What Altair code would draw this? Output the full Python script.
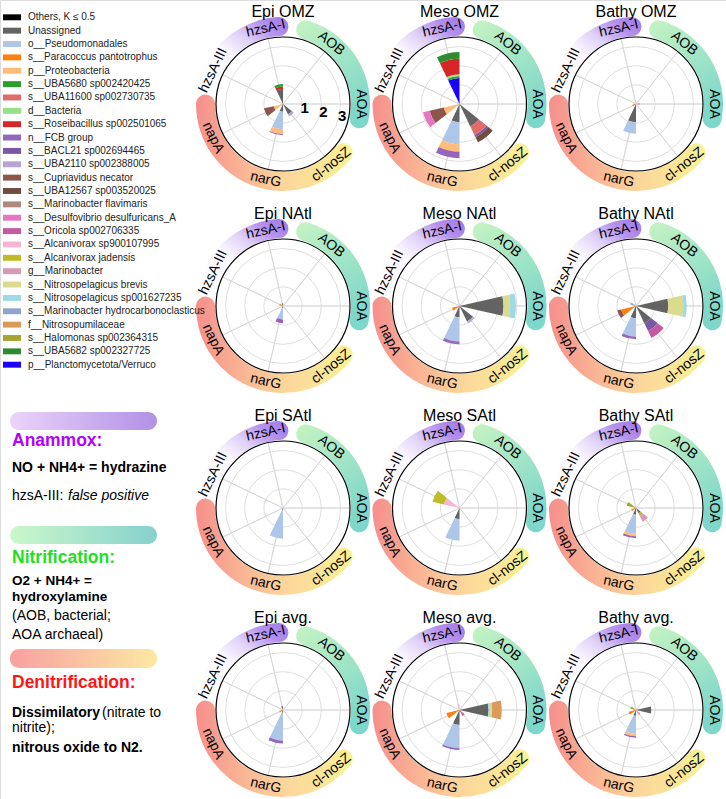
import math
import altair as alt
import pandas as pd

GENES = ["hzsA-I", "AOB", "AOA", "cl-nosZ", "narG", "napA", "hzsA-III"]

PANELS = ["Epi OMZ", "Meso OMZ", "Bathy OMZ",
          "Epi NAtl", "Meso NAtl", "Bathy NAtl",
          "Epi SAtl", "Meso SAtl", "Bathy SAtl",
          "Epi avg.", "Meso avg.", "Bathy avg."]

TAXA_KEYS = ["Others", "Unassigned", "Pseudomonadales", "Paracoccus", "Proteobacteria",
             "UBA5680", "UBA11600", "Bacteria", "Roseibacillus", "FCB", "BACL21", "UBA2110",
             "Cupriavidus", "UBA12567", "M_flavimaris", "Desulfovibrio", "Oricola",
             "Alcanivorax_sp", "A_jadensis", "Marinobacter", "N_brevis", "N_sp",
             "M_hydrocarbon", "Nitrosopumilaceae", "Halomonas", "UBA5682", "Planctomycetota"]

TAXA = ["Others, K ≤ 0.5", "Unassigned", "o__Pseudomonadales", "s__Paracoccus pantotrophus",
        "p__Proteobacteria", "s__UBA5680 sp002420425", "s__UBA11600 sp002730735", "d__Bacteria",
        "s__Roseibacillus sp002501065", "n__FCB group", "s__BACL21 sp002694465",
        "s__UBA2110 sp002388005", "s__Cupriavidus necator", "s__UBA12567 sp003520025",
        "s__Marinobacter flavimaris", "s__Desulfovibrio desulfuricans_A", "s__Oricola sp002706335",
        "s__Alcanivorax sp900107995", "s__Alcanivorax jadensis", "g__Marinobacter",
        "s__Nitrosopelagicus brevis", "s__Nitrosopelagicus sp001627235",
        "s__Marinobacter hydrocarbonoclasticus", "f__Nitrosopumilaceae",
        "s__Halomonas sp002364315", "s__UBA5682 sp002327725", "p__Planctomycetota/Verruco"]

COLORS = ["#000000", "#636363", "#aec7e8", "#ff7f0e", "#ffbb78", "#2ca02c", "#e06b6b", "#98df8a",
          "#d62728", "#9467bd", "#7b58a6", "#b9a5d2", "#8c564b", "#704b3f", "#ad8a80",
          "#e377c2", "#c45ba2", "#f7b6d2", "#bcbd22", "#d99ab5", "#dbdb8d", "#9edae5",
          "#8fa6cc", "#dc9a58", "#a5a632", "#2f8b2f", "#1c00ff"]

# (gene, taxon, value) stacked from the centre outwards
EPI_OMZ = [("hzsA-I", "Unassigned", 0.78), ("hzsA-I", "Roseibacillus", 0.14), ("hzsA-I", "UBA5680", 0.13),
           ("cl-nosZ", "Unassigned", 0.6), ("cl-nosZ", "UBA2110", 0.12),
           ("narG", "Unassigned", 0.4), ("narG", "Pseudomonadales", 0.92), ("narG", "Proteobacteria", 0.26),
           ("narG", "FCB", 0.05),
           ("napA", "Proteobacteria", 0.5), ("napA", "Cupriavidus", 0.52)]
MESO_OMZ = [("hzsA-I", "Planctomycetota", 1.36), ("hzsA-I", "UBA5680", 0.1), ("hzsA-I", "Bacteria", 0.1),
            ("hzsA-I", "Roseibacillus", 0.8), ("hzsA-I", "UBA5682", 0.35),
            ("cl-nosZ", "Unassigned", 1.3), ("cl-nosZ", "UBA11600", 0.5), ("cl-nosZ", "BACL21", 0.12),
            ("cl-nosZ", "UBA12567", 0.3),
            ("narG", "Unassigned", 0.95), ("narG", "Pseudomonadales", 1.15), ("narG", "Proteobacteria", 0.4),
            ("narG", "FCB", 0.33),
            ("napA", "Proteobacteria", 0.85), ("napA", "Cupriavidus", 0.75), ("napA", "Desulfovibrio", 0.35)]
BATHY_OMZ = [("AOA", "Desulfovibrio", 0.2),
             ("narG", "Unassigned", 0.95), ("narG", "Pseudomonadales", 0.6),
             ("napA", "Paracoccus", 0.2)]
EPI_NATL = [("narG", "Unassigned", 0.1), ("narG", "Pseudomonadales", 0.6), ("narG", "FCB", 0.2),
            ("hzsA-III", "Paracoccus", 0.2), ("hzsA-I", "Unassigned", 0.15)]
MESO_NATL = [("AOA", "Unassigned", 2.3), ("AOA", "N_brevis", 0.35), ("AOA", "N_sp", 0.3),
             ("cl-nosZ", "Unassigned", 0.9), ("cl-nosZ", "UBA2110", 0.1),
             ("narG", "Unassigned", 0.6), ("narG", "Pseudomonadales", 1.25), ("narG", "FCB", 0.15),
             ("napA", "Paracoccus", 0.4), ("hzsA-I", "Alcanivorax_sp", 0.15)]
BATHY_NATL = [("AOA", "Unassigned", 1.69), ("AOA", "N_brevis", 0.78), ("AOA", "N_sp", 0.18),
              ("cl-nosZ", "Unassigned", 1.0), ("cl-nosZ", "BACL21", 0.45), ("cl-nosZ", "Oricola", 0.4),
              ("narG", "Unassigned", 0.64), ("narG", "Pseudomonadales", 0.96), ("narG", "FCB", 0.14),
              ("napA", "Paracoccus", 0.8), ("napA", "Cupriavidus", 0.2),
              ("hzsA-III", "M_hydrocarbon", 0.3)]
EPI_SATL = [("narG", "Unassigned", 0.1), ("narG", "Pseudomonadales", 1.5)]
MESO_SATL = [("narG", "Unassigned", 0.58), ("narG", "Pseudomonadales", 1.13),
             ("hzsA-III", "Alcanivorax_sp", 0.84), ("hzsA-III", "A_jadensis", 0.6)]
BATHY_SATL = [("narG", "Unassigned", 0.35), ("narG", "Pseudomonadales", 1.0), ("narG", "Proteobacteria", 0.13),
              ("narG", "FCB", 0.1),
              ("cl-nosZ", "Unassigned", 0.3), ("cl-nosZ", "A_jadensis", 0.15), ("cl-nosZ", "Marinobacter", 0.35),
              ("hzsA-III", "Halomonas", 0.5), ("napA", "Paracoccus", 0.25)]
EPI_AVG = [("narG", "Unassigned", 0.15), ("narG", "Pseudomonadales", 1.45), ("narG", "FCB", 0.15),
           ("hzsA-I", "Unassigned", 0.2), ("napA", "Paracoccus", 0.2)]
MESO_AVG = [("AOA", "Unassigned", 1.52), ("AOA", "N_sp", 0.1), ("AOA", "N_brevis", 0.09),
            ("AOA", "Nitrosopumilaceae", 0.5),
            ("narG", "Unassigned", 0.78), ("narG", "Pseudomonadales", 1.22), ("narG", "FCB", 0.09),
            ("napA", "Paracoccus", 0.7), ("cl-nosZ", "Oricola", 0.35), ("hzsA-I", "Alcanivorax_sp", 0.3)]
BATHY_AVG = [("AOA", "Unassigned", 0.8),
             ("narG", "Unassigned", 0.3), ("narG", "Pseudomonadales", 0.95), ("narG", "Proteobacteria", 0.12),
             ("narG", "FCB", 0.08),
             ("napA", "Paracoccus", 0.4), ("cl-nosZ", "Marinobacter", 0.3), ("hzsA-III", "Halomonas", 0.3)]

PANEL_DATA = [EPI_OMZ, MESO_OMZ, BATHY_OMZ, EPI_NATL, MESO_NATL, BATHY_NATL,
              EPI_SATL, MESO_SATL, BATHY_SATL, EPI_AVG, MESO_AVG, BATHY_AVG]

RING_TICKS = [1, 2, 3]
R_MAX = 3.5

# ---------------- tables built from the lists above ----------------
full = dict(zip(TAXA_KEYS, TAXA))
bar_rows, gene_rows, ring_rows, panel_rows = [], [], [], []
for pi, (name, segs) in enumerate(zip(PANELS, PANEL_DATA)):
    col, row = pi % 3, pi // 3
    panel_rows.append({"col": col, "row": row, "name": name})
    cum = {g: 0.0 for g in GENES}
    for gene, tax, v in segs:
        g = GENES.index(gene)
        bar_rows.append({"col": col, "row": row, "t0": g - 0.5, "t1": g,
                         "r0": cum[gene], "r1": cum[gene] + v, "taxon": full[tax]})
        cum[gene] += v
    for g, gene in enumerate(GENES):
        deg = (g - 0.25) * 360 / len(GENES)
        deg = ((deg + 180) % 360) - 180
        rot = deg if -90 <= deg <= 90 else deg - 180
        gene_rows.append({"col": col, "row": row, "tc": g - 0.25, "gene": gene,
                          "rot": rot % 360, "rmax": R_MAX})
    for r in RING_TICKS:
        ring_rows.append({"col": col, "row": row, "r": r, "outer": 0})
    ring_rows.append({"col": col, "row": row, "r": R_MAX, "outer": 1})

bars = pd.DataFrame(bar_rows)
genes = pd.DataFrame(gene_rows)
rings = pd.DataFrame(ring_rows)
panels = pd.DataFrame(panel_rows)
legend_df = pd.DataFrame({"taxon": TAXA, "li": list(range(len(TAXA)))})
ticks_df = pd.DataFrame({"col": [0] * 3, "row": [0] * 3, "v": RING_TICKS})
ONE = pd.DataFrame({"k": [0]})

FONT = "Liberation Sans"
NG = len(GENES)
theta_scale = alt.Scale(domain=[0, NG], range=[0, 2 * math.pi])
r_scale = alt.Scale(type="linear", domain=[0, R_MAX], range=[0, 67])
X = alt.X("col:Q", scale=alt.Scale(domain=[0, 2], range=[283, 636]), axis=None)
Y = alt.Y("row:Q", scale=alt.Scale(domain=[0, 3], range=[104, 710]), axis=None)


def grad(stops, x1, y1, x2, y2):
    return {"gradient": "linear", "x1": x1, "y1": y1, "x2": x2, "y2": y2,
            "stops": [{"offset": o, "color": c} for o, c in stops]}


# process bands (angles in gene units)
BANDS = [
    (283 / 360 * NG, 364 / 360 * NG,
     grad([(0, "#9f76e6"), (0.2, "#b692ee"), (0.4, "#e0d2f8"), (0.6, "#faf7fe"), (1, "#ffffff")],
          1, 0, 0, 1)),
    (10 / 360 * NG, 108 / 360 * NG,
     grad([(0, "#c6f3c2"), (1, "#7ed7cb")], 0, 0, 0.4, 1)),
    (122 / 360 * NG, 277 / 360 * NG,
     grad([(0, "#faf394"), (0.45, "#fcd49b"), (1, "#f68f8c")], 1, 0, 0, 0)),
]

layers = []
for a0, a1, g in BANDS:
    bdf = panels.assign(a0=a0, a1=a1)
    layers.append(alt.Chart(bdf).mark_arc(color=g, cornerRadius=9.5, radius=87, radius2=68).encode(
        x=X, y=Y,
        theta=alt.Theta("a0:Q", scale=theta_scale, stack=None),
        theta2="a1:Q"))

# grid rings
layers.append(alt.Chart(rings).transform_filter("datum.outer == 0").mark_arc(
    filled=False, color="#d6d6d6", strokeWidth=0.8).encode(
    x=X, y=Y, theta=alt.value(0), theta2=alt.value(6.3),
    radius=alt.Radius("r:Q", scale=r_scale, stack=None)))
# spokes
layers.append(alt.Chart(genes).mark_arc(filled=False, color="#d6d6d6", strokeWidth=0.8).encode(
    x=X, y=Y,
    theta=alt.Theta("tc:Q", scale=theta_scale, stack=None), theta2="tc:Q",
    radius=alt.Radius("rmax:Q", scale=r_scale, stack=None)))
# outer circle
layers.append(alt.Chart(rings).transform_filter("datum.outer == 1").mark_arc(
    filled=False, color="#000000", strokeWidth=1.2).encode(
    x=X, y=Y, theta=alt.value(0), theta2=alt.value(6.3),
    radius=alt.Radius("r:Q", scale=r_scale, stack=None)))
# bars
layers.append(alt.Chart(bars).mark_arc(strokeWidth=0).encode(
    x=X, y=Y,
    theta=alt.Theta("t0:Q", scale=theta_scale, stack=None), theta2="t1:Q",
    radius=alt.Radius("r1:Q", scale=r_scale, stack=None), radius2="r0:Q",
    color=alt.Color("taxon:N", scale=alt.Scale(domain=TAXA, range=COLORS), legend=None)))
# gene labels
layers.append(alt.Chart(genes).mark_text(font=FONT, fontSize=14, align="center", baseline="middle",
                                         color="#000000").encode(
    x=X, y=Y,
    theta=alt.Theta("tc:Q", scale=theta_scale, stack=None),
    radius=alt.value(77.5),
    angle=alt.Angle("rot:Q", scale=None),
    text="gene:N"))
# panel titles
layers.append(alt.Chart(panels).mark_text(font=FONT, fontSize=16, align="center", baseline="middle",
                                          dy=-92, color="#000000").encode(x=X, y=Y, text="name:N"))
# radial tick numbers (first panel only)
layers.append(alt.Chart(ticks_df).mark_text(font=FONT, fontSize=15, fontWeight="bold", align="center",
                                            baseline="middle", radiusOffset=3, color="#000000").encode(
    x=X, y=Y, theta=alt.value(101.5 / 180 * math.pi),
    radius=alt.Radius("v:Q", scale=r_scale, stack=None), text="v:N"))

# legend
LY = alt.Y("li:Q", scale=alt.Scale(domain=[0, len(TAXA) - 1], range=[17.3, 364.7]), axis=None)
layers.append(alt.Chart(legend_df).mark_point(shape="M-1,-0.33H1V0.33H-1Z", size=324, filled=True,
                                              opacity=1, strokeWidth=0).encode(
    x=alt.value(12), y=LY,
    color=alt.Color("taxon:N", scale=alt.Scale(domain=TAXA, range=COLORS), legend=None)))
layers.append(alt.Chart(legend_df).mark_text(font=FONT, fontSize=10, align="left", baseline="middle",
                                             color="#222222").encode(
    x=alt.value(28), y=LY, text="taxon:N"))


def capsule(y0, y1, g):
    return alt.Chart(ONE).mark_rect(cornerRadius=9, color=g).encode(
        x=alt.value(10), x2=alt.value(157), y=alt.value(y0), y2=alt.value(y1))


def note(s, x, y, size=14, weight="normal", style="normal", color="#000000"):
    return alt.Chart(ONE).mark_text(text=s, font=FONT, fontSize=size, fontWeight=weight, fontStyle=style,
                                    color=color, align="left", baseline="middle").encode(
        x=alt.value(x), y=alt.value(y))


layers += [
    capsule(412, 430, grad([(0, "#ecd3fa"), (1, "#b290e6")], 0, 0, 1, 0)),
    note("Anammox:", 12, 441, 17.5, "bold", color="#b400ff"),
    note("NO + NH4+ = hydrazine", 12, 468, 14, "bold"),
    note("hzsA-III:", 12, 496, 14),
    note("false positive", 68, 496, 14, style="italic"),
    capsule(526, 544, grad([(0, "#cbf8cb"), (1, "#86d0ce")], 0, 0, 1, 0)),
    note("Nitrification:", 12, 558, 17.5, "bold", color="#1fe01f"),
    note("O2 + NH4+ =", 12, 581, 13.5, "bold"),
    note("hydroxylamine", 12, 597, 13.5, "bold"),
    note("(AOB, bacterial;", 12, 616, 14),
    note("AOA archaeal)", 12, 635, 14),
    capsule(649, 668, grad([(0, "#f8a0a0"), (1, "#fde8a4")], 0, 0, 1, 0)),
    note("Denitrification:", 12, 683, 17.5, "bold", color="#ff1515"),
    note("Dissimilatory", 12, 713, 14, "bold"),
    note("(nitrate to", 102, 713, 14),
    note("nitrite);", 12, 728, 14),
    note("nitrous oxide to N2.", 12, 748, 14, "bold"),
]

chart = alt.layer(*layers).resolve_scale(x="independent", y="independent").properties(
    width=726, height=799, padding=0, autosize=alt.AutoSizeParams(type="none"),
    background="#ffffff").configure_view(strokeOpacity=0).configure(font=FONT)

chart.save("out.html", embed_options={"renderer": "svg", "actions": False})
